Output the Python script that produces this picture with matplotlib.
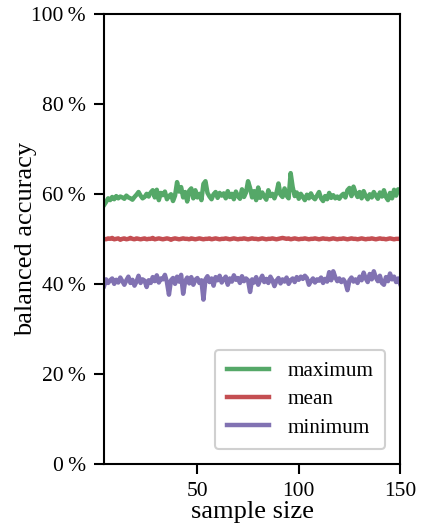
import matplotlib
matplotlib.use("Agg")
import matplotlib.pyplot as plt
import numpy as np
from matplotlib.ticker import FuncFormatter

sample_size = list(range(4, 151))

maximum = [57.5, 58.2, 59.0, 58.6, 59.3, 58.8, 59.5, 59.0, 59.4, 59.2, 58.9, 59.6, 59.2, 59.0, 58.7, 59.3,
           59.8, 60.4, 59.6, 59.0, 59.3, 60.0, 59.4, 60.3, 60.8, 59.2, 60.9, 58.6, 60.2, 59.7, 60.5, 58.8,
           59.5, 59.9, 58.4, 59.6, 62.6, 60.5, 61.5, 59.2, 60.4, 58.3, 60.7, 61.2, 59.0, 60.8, 59.2, 60.0,
           58.6, 62.2, 62.8, 60.2, 59.4, 58.8, 59.9, 60.4, 59.1, 60.2, 59.6, 60.1, 59.0, 60.6, 59.3, 60.0,
           58.8, 60.5, 59.5, 58.9, 61.0, 59.3, 60.3, 62.8, 61.3, 59.2, 60.6, 58.6, 61.4, 59.1, 60.3, 59.4,
           58.7, 60.8, 59.5, 60.0, 59.0, 60.2, 62.3, 59.8, 59.3, 61.2, 59.6, 59.0, 64.6, 61.5, 59.5, 60.3,
           58.9, 60.0, 59.3, 58.6, 59.8, 59.0, 60.1, 59.2, 58.8, 59.6, 60.4, 59.0, 58.4, 59.5, 58.8, 60.2,
           59.1, 59.7, 59.0, 59.4, 58.9, 59.6, 60.0, 59.2, 60.8, 61.3, 59.5, 61.6, 60.2, 59.3, 60.4, 59.0,
           60.6, 59.5, 58.8, 59.9, 59.2, 60.4, 59.6, 58.9, 60.3, 59.4, 60.8, 59.3, 58.6, 60.2, 59.0, 60.9,
           59.6, 61.0, 60.4]

mean = [50.0, 49.9, 50.1, 50.0, 50.2, 49.9, 50.0, 50.1, 49.8, 50.0, 50.1, 49.9, 50.0, 50.2, 50.0, 49.9,
        50.1, 50.0, 49.9, 50.0, 50.1, 49.9, 50.0, 50.0, 50.2, 49.9, 50.0, 50.1, 50.0, 49.9, 50.0, 50.1,
        50.0, 49.8, 50.0, 50.1, 50.0, 49.9, 50.0, 50.1, 50.0, 50.0, 49.9, 50.1, 50.0, 49.9, 50.0, 50.1,
        50.0, 49.9, 50.0, 50.0, 50.1, 49.9, 50.0, 50.1, 50.0, 49.9, 50.0, 50.0, 50.1, 50.0, 49.9, 50.0,
        50.1, 50.0, 49.9, 50.0, 50.0, 50.1, 50.0, 49.9, 50.0, 50.1, 50.0, 50.0, 49.9, 50.0, 50.1, 50.0,
        49.9, 50.0, 50.0, 50.1, 50.0, 49.9, 50.0, 50.1, 50.2, 50.1, 50.0, 50.1, 49.9, 50.0, 50.1, 50.0,
        49.9, 50.0, 50.0, 50.1, 50.0, 49.9, 50.0, 50.0, 50.1, 50.0, 49.9, 50.0, 50.1, 50.0, 50.0, 49.9,
        50.0, 50.1, 50.0, 49.9, 50.0, 50.0, 50.1, 50.0, 49.9, 50.0, 50.1, 50.0, 50.0, 49.9, 50.0, 50.1,
        50.0, 49.9, 50.0, 50.0, 50.1, 50.0, 49.9, 50.0, 50.1, 50.0, 50.0, 49.9, 50.0, 50.1, 50.0, 49.9,
        50.0, 50.0, 50.0]

minimum = [39.5, 41.0, 40.2, 40.8, 41.2, 40.0, 40.9, 40.3, 41.4, 40.6, 39.8, 40.8, 41.6, 40.2, 40.9, 39.6,
           40.5, 41.8, 40.2, 41.0, 40.7, 39.3, 40.8, 40.2, 41.5, 40.6, 41.9, 40.3, 41.2, 41.0, 42.0, 40.4,
           37.6, 40.8, 41.3, 40.0, 41.6, 40.5, 42.0, 37.8, 40.6, 41.4, 40.1, 41.5, 39.8, 40.9, 41.3, 40.2,
           40.8, 36.5, 41.0, 41.7, 40.4, 41.2, 39.6, 41.5, 40.8, 41.8, 40.3, 41.0, 41.6, 39.8, 41.2, 40.5,
           41.9, 40.9, 41.3, 40.2, 41.7, 40.6, 41.2, 40.8, 38.2, 41.0, 40.3, 41.5, 39.8, 40.9, 41.8, 40.4,
           41.1, 40.2, 41.6, 40.8, 39.5, 40.7, 41.3, 40.1, 41.0, 40.5, 41.4, 40.0, 40.8, 41.2, 40.4, 41.5,
           40.9, 41.6, 41.1, 41.8, 41.3, 39.8, 40.6, 41.2, 40.3, 41.0, 40.7, 41.4, 40.2, 41.1, 40.5, 42.6,
           40.8, 42.8, 41.5, 40.6, 41.2, 40.4, 41.0, 40.3, 38.6, 40.8, 41.4, 40.5, 41.0, 40.2, 41.6, 40.8,
           42.5, 41.2, 40.4, 42.2, 41.0, 42.8, 41.4, 40.6, 41.8, 40.2, 39.8, 41.5, 40.6, 42.3, 41.0, 41.6,
           40.4, 41.2, 40.0]

series_labels = ["maximum", "mean", "minimum"]
colors = ["#55A868", "#C44E52", "#8172B2"]

plt.rcParams['font.family'] = ['Liberation Serif', 'DejaVu Serif']

fig = plt.figure(figsize=(4.23, 5.29), dpi=100)
ax = fig.add_axes([0.246, 0.123, 0.700, 0.851])

for vals, lab, c in zip([maximum, mean, minimum], series_labels, colors):
    ax.plot(sample_size, vals, color=c, lw=3.2, label=lab)

ax.set_xlim(min(sample_size), max(sample_size))
ax.set_ylim(0, 100)
ax.set_xticks([50, 100, 150])
ax.set_yticks([0, 20, 40, 60, 80, 100])
ax.yaxis.set_major_formatter(FuncFormatter(lambda v, p: f"{int(v)}\u2009%"))

for s in ax.spines.values():
    s.set_linewidth(1.5)
    s.set_color("black")
ax.tick_params(direction="out", length=7, width=1.5, labelsize=15.5, pad=6)

ax.set_xlabel("sample size", fontsize=19, labelpad=0)
ax.set_ylabel("balanced accuracy", fontsize=19, labelpad=-4)

leg = ax.legend(loc="lower right", fontsize=15.2, handlelength=2.0, borderpad=0.55,
                labelspacing=0.4, handletextpad=0.9, fancybox=True, framealpha=1,
                borderaxespad=0.7)
leg.get_frame().set_edgecolor("#d0d0d0")
leg.get_frame().set_linewidth(1.5)

fig.savefig("out.png", dpi=100)
